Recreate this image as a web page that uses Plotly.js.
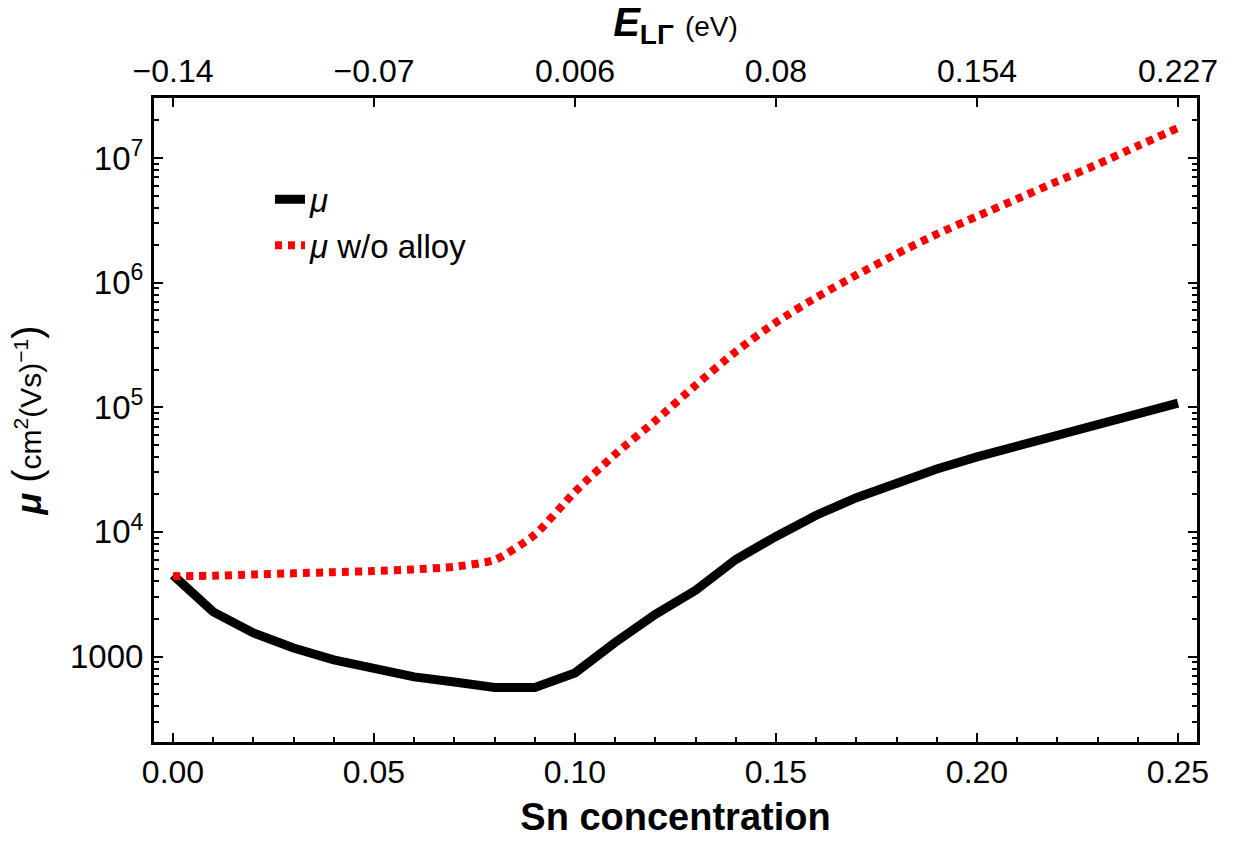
<!DOCTYPE html>
<html>
<head>
<meta charset="utf-8">
<script src="https://cdn.plot.ly/plotly-3.0.1.min.js"></script>
<style>html,body{margin:0;padding:0;background:#fff;}#chart{width:1235px;height:842px;}</style>
</head>
<body>
<div id="chart"></div>
<script>
// Sn concentration
const snConc = [0.00,0.01,0.02,0.03,0.04,0.05,0.06,0.07,0.08,0.09,0.10,0.11,0.12,0.13,0.14,0.15,0.16,0.17,0.18,0.19,0.20,0.21,0.22,0.23,0.24,0.25];
// mobility mu (cm^2/(Vs))
const muTotal = [4500,2280,1545,1170,940,790,686,624,565,565,738,1300,2180,3400,6000,9200,13600,18800,25000,32000,40000,48500,58500,71000,87000,108000];
// mobility without alloy scattering
const muNoAlloy = [4400,4450,4550,4650,4750,4850,5000,5250,5950,9500,21000,42000,78000,150000,280000,480000,760000,1150000,1700000,2450000,3400000,4700000,6500000,8900000,12500000,17400000];
// bottom and top axis ticks
const xTickVals = [0.00,0.05,0.10,0.15,0.20,0.25];
const xTickText = ["0.00","0.05","0.10","0.15","0.20","0.25"];
const eTickText = ["\u22120.14","\u22120.07","0.006","0.08","0.154","0.227"];
const yTickVals = [1000,10000,100000,1000000,10000000];
const yTickText = ["1000","10<sup>4</sup>","10<sup>5</sup>","10<sup>6</sup>","10<sup>7</sup>"];
// minor log ticks (2..9 in each decade)
const yMinorVals = [];
for (let d = 100; d <= 10000000; d *= 10) { for (let m = 2; m <= 9; m++) { yMinorVals.push(m * d); } }

const sans = "'Liberation Sans', Arial, sans-serif";
const xRange = [-0.00473, 0.25473];
const yRange = [2.314, 7.4815];

const traces = [
  {x: snConc, y: muTotal, type: 'scatter', mode: 'lines', name: '<i>\u03bc</i>',
   line: {color: '#000000', width: 9}, xaxis: 'x', yaxis: 'y'},
  {x: snConc, y: muNoAlloy, type: 'scatter', mode: 'lines', name: '<i>\u03bc</i> w/o alloy',
   line: {color: '#ff0000', width: 8, dash: '7px,6px', shape: 'spline', smoothing: 0.6}, xaxis: 'x', yaxis: 'y'},
  // invisible traces anchoring the top axis and the label axis
  {x: snConc, y: muTotal, xaxis: 'x2', yaxis: 'y', type: 'scatter', mode: 'lines',
   line: {width: 0}, opacity: 0, showlegend: false, hoverinfo: 'skip'},
  {x: snConc, y: muTotal, xaxis: 'x', yaxis: 'y3', type: 'scatter', mode: 'lines',
   line: {width: 0}, opacity: 0, showlegend: false, hoverinfo: 'skip'}
];

const layout = {
  width: 1235, height: 842,
  margin: {l: 154, r: 38, t: 98, b: 100},
  paper_bgcolor: '#ffffff', plot_bgcolor: '#ffffff',
  showlegend: true,
  legend: {x: 0.1112, y: 0.886, xanchor: 'left', yanchor: 'top', bgcolor: 'rgba(0,0,0,0)',
           font: {family: sans, size: 33, color: '#000'}, tracegroupgap: 4},
  xaxis: {
    range: xRange, showgrid: false, zeroline: false,
    showline: true, linecolor: '#000', linewidth: 3,
    ticks: 'inside', ticklen: 9, tickwidth: 2, tickcolor: '#000',
    tickmode: 'array', tickvals: xTickVals, ticktext: xTickText,
    tickfont: {family: sans, size: 32, color: '#000'},
    minor: {ticks: 'inside', ticklen: 5, tickwidth: 2, dtick: 0.01, tick0: 0, tickcolor: '#000'},
    title: {text: '<b>Sn concentration</b>', font: {family: sans, size: 38, color: '#000'}, standoff: 14}
  },
  xaxis2: {
    overlaying: 'x', side: 'top', range: xRange, showgrid: false, zeroline: false,
    showline: true, linecolor: '#000', linewidth: 3,
    ticks: 'inside', ticklen: 9, tickwidth: 2, tickcolor: '#000',
    tickmode: 'array', tickvals: xTickVals, ticktext: eTickText,
    tickfont: {family: sans, size: 32, color: '#000'},
    title: {text: '<b><i>E</i></b><sub><b>L\u0393</b></sub> <span style="font-size:28px">(eV)</span>',
            font: {family: sans, size: 40, color: '#000'}, standoff: 8}
  },
  yaxis: {
    type: 'log', range: yRange, showgrid: false, zeroline: false,
    showline: true, linecolor: '#000', linewidth: 3, mirror: 'ticks',
    ticks: 'inside', ticklen: 9, tickwidth: 2, tickcolor: '#000',
    tickmode: 'array', tickvals: yTickVals, showticklabels: false,
    minor: {tickmode: 'array', tickvals: yMinorVals, ticks: 'inside', ticklen: 5, tickwidth: 2, tickcolor: '#000'}
  },
  yaxis3: {
    type: 'log', overlaying: 'y', anchor: 'free', position: 0, side: 'left',
    range: yRange, showgrid: false, zeroline: false, showline: false,
    ticks: 'outside', ticklen: 4, tickcolor: 'rgba(0,0,0,0)',
    tickmode: 'array', tickvals: yTickVals, ticktext: yTickText,
    tickfont: {family: sans, size: 33, color: '#000'},
    title: {text: '<b><i>\u03bc</i></b> <span style="font-size:40px">(</span><span style="font-size:30px">cm<sup>2</sup>(Vs)<sup>\u22121</sup></span><span style="font-size:40px">)</span>',
            font: {family: sans, size: 36, color: '#000'}, standoff: 16}
  }
};

Plotly.newPlot('chart', traces, layout, {displayModeBar: false, staticPlot: true});
</script>
</body>
</html>
